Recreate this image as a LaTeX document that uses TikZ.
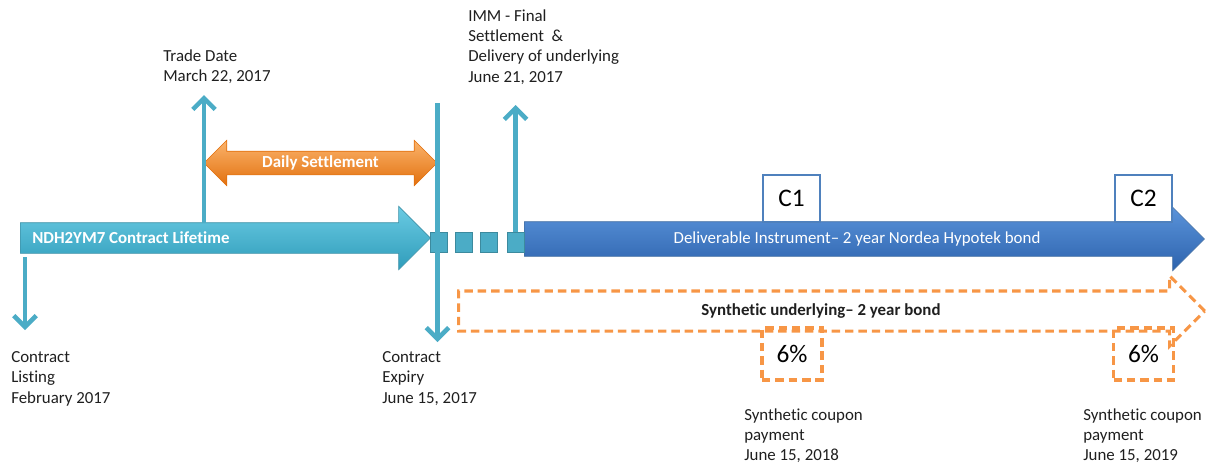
\documentclass[tikz,border=0pt]{standalone}
\usepackage{fontspec}
\setmainfont[Ligatures=NoCommon]{Carlito}
\usetikzlibrary{shapes.arrows, arrows.meta, positioning}

\definecolor{aqua}{HTML}{4BACC6}
\definecolor{aquatop}{HTML}{6ACBE3}
\definecolor{aquabot}{HTML}{2F9CBA}
\definecolor{bondblue}{HTML}{4F81BD}
\definecolor{bluetop}{HTML}{5A93DA}
\definecolor{bluebot}{HTML}{2D63AD}
\definecolor{settletop}{HTML}{FBB46C}
\definecolor{settlebot}{HTML}{E2700E}
\definecolor{synth}{HTML}{F79646}

\begin{document}
\begin{tikzpicture}[x=0.025cm, y=-0.025cm]
        \tikzstyle{datetext}=[anchor=north west, align=left, inner sep=0, font=\fontsize{12}{14.5}\selectfont, text=black!88];
        \tikzstyle{tick}=[line width=3.2pt, aqua, -{Straight Barb[length=8pt, width=16pt]}];
        \tikzstyle{gap}=[fill=aqua, draw=aqua!80!black, thin, minimum width=0.425cm, minimum height=0.5cm, inner sep=0];
        \tikzstyle{cbox}=[draw=bondblue, line width=1.5pt, fill=white, minimum width=1.425cm, minimum height=1.175cm, font=\fontsize{18}{20}\selectfont];
        \tikzstyle{coupon}=[draw=synth, line width=2.2pt, dash pattern=on 6pt off 3.5pt, minimum width=1.5cm, minimum height=1.3cm, font=\fontsize{18}{20}\selectfont];
        \tikzstyle{arrowtext}=[inner sep=0, font=\fontsize{12}{14}\selectfont];

        \useasboundingbox (0, 0) rectangle (1207, 463);

        \node[single arrow, anchor=tail, minimum width=0, minimum height=10.25cm, inner xsep=0, inner ysep=0.375cm, single arrow head extend=0.4125cm, top color=aquatop, bottom color=aquabot, draw=aqua!85!black, thin] (life) at (20, 238) {};
        \node[single arrow, anchor=tail, minimum width=0, minimum height=17cm, inner xsep=0, inner ysep=0.425cm, single arrow head extend=0.3625cm, top color=bluetop, bottom color=bluebot, draw=bondblue!85!black, thin] (bond) at (524, 239) {};
        \node[double arrow, minimum width=0, minimum height=5.825cm, inner xsep=0, inner ysep=0.2875cm, double arrow head extend=0.275cm, top color=settletop, bottom color=settlebot, draw=settlebot, thin] (settle) at (320.5, 163) {};
        \node[single arrow, anchor=tail, minimum width=0, minimum height=18.65cm, inner xsep=0, inner ysep=0.4625cm, single arrow head extend=0.375cm, draw=synth, line width=2.2pt, dash pattern=on 6pt off 3.5pt] (synthetic) at (457, 311) {};

        \node[arrowtext, anchor=west, text=white, font=\fontsize{12}{14}\selectfont\bfseries] (lifetext) at (32, 238) {NDH2YM7 Contract Lifetime};
        \node[arrowtext, text=white] (bondtext) at (857, 239) {Deliverable Instrument– 2 year Nordea Hypotek bond};
        \node[arrowtext, text=white, font=\fontsize{12}{14}\selectfont\bfseries] (settletext) at (320.5, 163) {Daily Settlement};
        \node[arrowtext, text=black!88, font=\fontsize{12}{14}\selectfont\bfseries] (synthtext) at (821, 311) {Synthetic underlying– 2 year bond};

        \node[gap] (0) at (439, 242) {};
        \node[gap] (1) at (464, 242) {};
        \node[gap] (2) at (489, 242) {};
        \node[gap] (3) at (515.5, 242) {};

        \node[cbox] (c1) at (791.5, 198.5) {C1};
        \node[cbox] (c2) at (1143.5, 198.5) {C2};
        \node[coupon] (p1) at (792, 354) {6\%};
        \node[coupon] (p2) at (1143.5, 354) {6\%};

        \node[datetext] (trade) at (163, 49) {Trade Date\\March 22, 2017};
        \node[datetext] (imm) at (468, 9) {IMM - Final\\Settlement\ \ \&\\Delivery of underlying\\June 21, 2017};
        \node[datetext] (listing) at (11, 351) {Contract\\Listing\\February 2017};
        \node[datetext] (expiry) at (382, 351) {Contract\\Expiry\\June 15, 2017};
        \node[datetext] (pay1) at (744, 408) {Synthetic coupon\\payment\\June 15, 2018};
        \node[datetext] (pay2) at (1083, 408) {Synthetic coupon\\payment\\June 15, 2019};

        \coordinate (tradefoot) at (204, 223);
        \coordinate (tradetip) at (204, 95);
        \coordinate (expirytop) at (437.5, 103);
        \coordinate (expirytip) at (437.5, 342);
        \coordinate (listingfoot) at (25, 257);
        \coordinate (listingtip) at (25, 330);
        \coordinate (immtip) at (515.5, 105);

        \draw (tradefoot) edge[tick] (tradetip);
        \draw (expirytop) edge[tick] (expirytip);
        \draw (listingfoot) edge[tick] (listingtip);
        \draw (3.north) edge[tick] (immtip);

    \end{tikzpicture}
\end{document}
